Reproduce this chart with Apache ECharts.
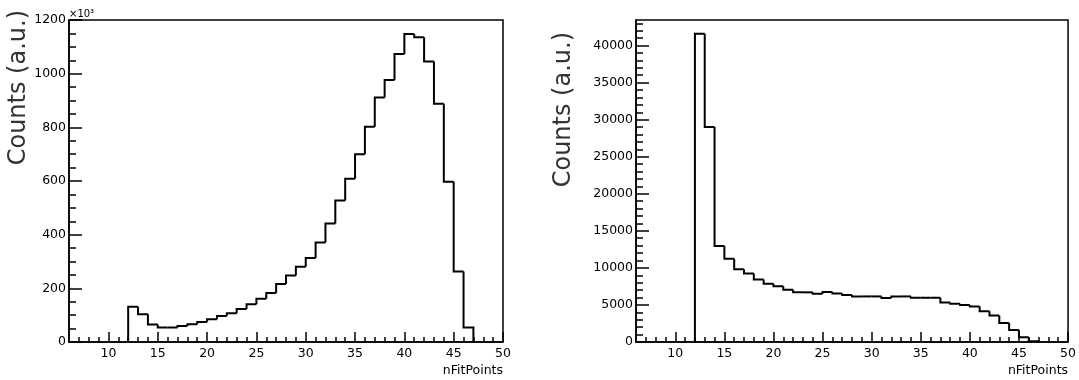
<!DOCTYPE html>
<html>
<head>
<meta charset="utf-8">
<script src="https://cdn.jsdelivr.net/npm/echarts@6/dist/echarts.min.js"></script>
<style>
  html, body { margin: 0; padding: 0; background: #fff; }
  #chart { width: 1079px; height: 380px; }
</style>
</head>
<body>
<div id="chart"></div>
<script>
// bin low edges (width 1), shared by both histograms
const binLowEdges = [12, 13, 14, 15, 16, 17, 18, 19, 20, 21, 22, 23, 24, 25, 26, 27, 28, 29,
  30, 31, 32, 33, 34, 35, 36, 37, 38, 39, 40, 41, 42, 43, 44, 45, 46];
const binWidth = 1;

// left panel, counts in units of 10^3
const leftCounts = [131, 103, 65, 54, 54, 60, 66, 75, 85, 97, 107, 123, 141, 161, 183, 216,
  248, 280, 313, 371, 442, 527, 608, 700, 802, 911, 976, 1073, 1148, 1136, 1045, 888,
  597, 263, 54];

// right panel, counts
const rightCounts = [41600, 29000, 12940, 11220, 9820, 9230, 8420, 7870, 7510, 7060, 6700,
  6700, 6520, 6740, 6560, 6340, 6150, 6150, 6150, 5930, 6150, 6150, 5970, 5970, 5970,
  5340, 5160, 4980, 4800, 4160, 3570, 2580, 1630, 630, 90];

const xMajorTicks = [10, 15, 20, 25, 30, 35, 40, 45, 50];
const leftYMajorTicks = [0, 200, 400, 600, 800, 1000, 1200];
const rightYMajorTicks = [0, 5000, 10000, 15000, 20000, 25000, 30000, 35000, 40000];

const xMin = 6, xMax = 50;
const leftYMax = 1200, rightYMax = 43450;

function range(from, to, step) {
  const out = [];
  for (let v = from; v <= to + 1e-9; v += step) out.push(v);
  return out;
}
const xMinorTicks = range(7, 49, 1);
const leftYMinorTicks = range(0, 1200, 50);
const rightYMinorTicks = range(0, 43000, 1000);

// rows: [low, high, value, previous bin value, isLast]
function histRows(edges, counts) {
  return edges.map((e, i) => [e, e + binWidth, counts[i], i === 0 ? 0 : counts[i - 1], i === edges.length - 1 ? 1 : 0]);
}

function renderBin(params, api) {
  const lo = api.value(0), hi = api.value(1), v = api.value(2), prev = api.value(3);
  const pts = [api.coord([lo, prev]), api.coord([lo, v]), api.coord([hi, v])];
  if (api.value(4) === 1) pts.push(api.coord([hi, 0]));
  return {
    type: "polyline",
    shape: { points: pts },
    style: { stroke: "#000", lineWidth: 2, fill: null, lineJoin: "miter" },
  };
}

const FONT = "DejaVu Sans";
const labelStyle = { color: "#000", fontFamily: FONT, fontSize: 12.5 };
const lineStyle = { color: "#000", width: 1.5 };

function xAxes(grid) {
  return [
    {
      gridIndex: grid, type: "value", min: xMin, max: xMax, position: "bottom",
      axisLine: { show: true, lineStyle },
      axisTick: { show: true, inside: true, length: 10, customValues: xMajorTicks, lineStyle },
      axisLabel: { show: true, margin: 5, customValues: xMajorTicks, formatter: (v) => String(v), ...labelStyle },
      splitLine: { show: false },
      name: "nFitPoints", nameLocation: "end", nameGap: 0,
      nameTextStyle: { ...labelStyle, align: "right", verticalAlign: "top", padding: [22, 0, 0, 0] },
    },
    {
      gridIndex: grid, type: "value", min: xMin, max: xMax, position: "bottom",
      axisLine: { show: false },
      axisTick: { show: true, inside: true, length: 5, customValues: xMinorTicks, lineStyle },
      axisLabel: { show: false },
      splitLine: { show: false },
    },
  ];
}

function yAxes(grid, max, major, minor) {
  return [
    {
      gridIndex: grid, type: "value", min: 0, max, position: "left",
      axisLine: { show: true, lineStyle },
      axisTick: { show: true, inside: true, length: 13, customValues: major, lineStyle },
      axisLabel: { show: true, margin: 3, customValues: major, formatter: (v) => String(v), ...labelStyle },
      splitLine: { show: false },
    },
    {
      gridIndex: grid, type: "value", min: 0, max, position: "left",
      axisLine: { show: false },
      axisTick: { show: true, inside: true, length: 7, customValues: minor, lineStyle },
      axisLabel: { show: false },
      splitLine: { show: false },
    },
  ];
}

const chart = echarts.init(document.getElementById("chart"), null, { renderer: "canvas" });
chart.setOption({
  animation: false,
  backgroundColor: "#fff",
  grid: [
    { left: 69, top: 20, width: 434, height: 322, show: true, borderColor: "#000", borderWidth: 1.5, backgroundColor: "transparent" },
    { left: 636, top: 20, width: 435, height: 322, show: true, borderColor: "#000", borderWidth: 1.5, backgroundColor: "transparent" },
  ],
  xAxis: [...xAxes(0), ...xAxes(1)],
  yAxis: [
    ...yAxes(0, leftYMax, leftYMajorTicks, leftYMinorTicks),
    ...yAxes(1, rightYMax, rightYMajorTicks, rightYMinorTicks),
  ],
  series: [
    {
      type: "custom", xAxisIndex: 0, yAxisIndex: 0,
      data: histRows(binLowEdges, leftCounts),
      encode: { x: [0, 1], y: [2, 3] },
      renderItem: renderBin,
    },
    {
      type: "custom", xAxisIndex: 2, yAxisIndex: 2,
      data: histRows(binLowEdges, rightCounts),
      encode: { x: [0, 1], y: [2, 3] },
      renderItem: renderBin,
    },
  ],
  graphic: [
    {
      type: "text", x: 19, y: 10, rotation: Math.PI / 2,
      style: { text: "Counts (a.u.)", fontFamily: FONT, fontSize: 24, fill: "#333", align: "right", verticalAlign: "middle" },
    },
    {
      type: "text", x: 564, y: 32, rotation: Math.PI / 2,
      style: { text: "Counts (a.u.)", fontFamily: FONT, fontSize: 24, fill: "#333", align: "right", verticalAlign: "middle" },
    },
    {
      type: "text", x: 69, y: 19,
      style: { text: "×10³", fontFamily: FONT, fontSize: 10, fill: "#000", align: "left", verticalAlign: "bottom" },
    },
  ],
});
</script>
</body>
</html>
